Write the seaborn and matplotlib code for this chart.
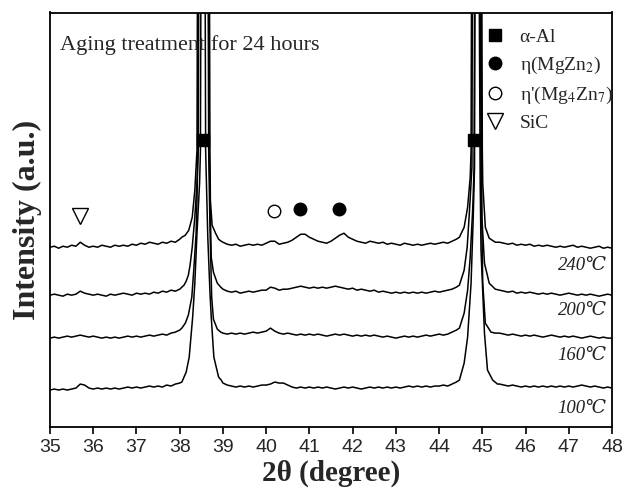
import numpy as np
import pandas as pd
import matplotlib
matplotlib.use("Agg")
import matplotlib.pyplot as plt
from matplotlib.lines import Line2D
import seaborn as sns

# ---------------- data ----------------
step = 0.1
x_left = np.round(np.arange(35.0, 38.0 + 1e-9, step), 2)     # 31 pts
x_mid = np.round(np.arange(39.0, 44.4 + 1e-9, step), 2)      # 55 pts
x_right = np.round(np.arange(45.4, 48.0 + 1e-9, step), 2)    # 27 pts

temps = ["240℃", "200℃", "160℃", "100℃"]
label_heights = [162, 117, 72, 19]

# 240 C
i240_left = [180, 181, 179, 181, 180, 182, 181, 185, 182, 180, 181, 180, 182, 181, 180, 182,
             181, 182, 181, 183, 182, 184, 183, 185, 184, 183, 185, 184, 186, 185, 188]
p1x_240 = [38.05, 38.13, 38.21, 38.29, 38.35, 38.38, 38.40, 38.41, 38.54, 38.69, 38.70, 38.71, 38.75, 38.83, 38.90, 38.96]
p1h_240 = [190, 192, 197, 210, 237, 260, 277, 430, 2500, 430, 277, 227, 202, 194, 188, 186]
i240_mid = [185, 183, 182, 183, 181, 182, 183, 182, 183, 182, 184, 186, 186, 183, 184, 185,
            187, 190, 193, 193, 190, 188, 186, 185, 184, 186, 189, 192, 194, 190, 188, 186,
            185, 184, 186, 185, 184, 185, 183, 184, 183, 182, 184, 183, 182, 183, 182, 183,
            184, 183, 184, 185, 184, 186, 188]
p2x_240 = [44.47, 44.58, 44.66, 44.72, 44.74, 44.75, 44.87, 44.99, 45.00, 45.01, 45.07, 45.16, 45.30]
p2h_240 = [190, 200, 220, 250, 277, 430, 2500, 430, 277, 244, 200, 189, 185]
i240_right = [185, 184, 183, 184, 182, 183, 182, 183, 181, 182, 181, 182, 181, 180, 181, 180,
              181, 182, 180, 181, 180, 179, 180, 181, 179, 180, 179]

# 200 C
i200_left = [132, 133, 132, 131, 133, 132, 133, 136, 134, 133, 132, 133, 132, 131, 133, 132,
             133, 134, 133, 132, 134, 133, 134, 133, 135, 134, 136, 135, 137, 136, 138]
p1x_200 = [38.05, 38.10, 38.15, 38.20, 38.24, 38.29, 38.35, 38.40, 38.43, 38.44, 38.55, 38.67, 38.68, 38.73, 38.78, 38.87, 38.95]
p1h_200 = [140, 142, 146, 152, 162, 180, 210, 244, 277, 430, 2500, 430, 277, 170, 155, 144, 140]
i200_mid = [138, 136, 135, 136, 134, 135, 136, 135, 136, 137, 137, 140, 139, 137, 138, 138,
            139, 140, 141, 140, 139, 140, 139, 140, 139, 140, 141, 140, 139, 138, 139, 137,
            138, 137, 136, 137, 135, 136, 135, 134, 135, 134, 135, 134, 135, 134, 135, 134,
            135, 136, 135, 136, 137, 138, 140]
p2x_200 = [44.47, 44.58, 44.65, 44.70, 44.76, 44.77, 44.87, 44.97, 44.98, 44.99, 45.05, 45.16, 45.30]
p2h_200 = [142, 157, 180, 214, 260, 430, 2500, 430, 277, 210, 164, 144, 138]
i200_right = [137, 136, 135, 136, 134, 135, 134, 135, 134, 133, 134, 133, 134, 133, 132, 133,
              134, 133, 132, 133, 132, 133, 132, 131, 132, 133, 132]

# 160 C
i160_left = [89, 90, 89, 90, 91, 90, 91, 92, 91, 90, 91, 90, 89, 90, 89, 90,
             89, 90, 91, 90, 91, 90, 91, 92, 91, 92, 93, 92, 94, 95, 97]
p1x_160 = [38.05, 38.13, 38.20, 38.28, 38.33, 38.38, 38.40, 38.42, 38.43, 38.55, 38.66, 38.67, 38.70, 38.74, 38.78, 38.87, 38.95]
p1h_160 = [99, 104, 112, 130, 160, 194, 227, 277, 430, 2500, 430, 277, 200, 130, 108, 98, 95]
i160_mid = [94, 93, 94, 93, 94, 93, 94, 95, 94, 95, 96, 99, 96, 94, 93, 94,
            93, 92, 93, 92, 93, 92, 93, 92, 91, 92, 93, 92, 93, 92, 91, 92,
            91, 92, 91, 92, 91, 90, 91, 90, 89, 90, 91, 90, 91, 90, 91, 92,
            91, 92, 93, 92, 93, 95, 97]
p2x_160 = [44.47, 44.58, 44.66, 44.72, 44.78, 44.81, 44.82, 44.89, 44.96, 44.97, 45.01, 45.07, 45.20, 45.30]
p2h_160 = [99, 114, 137, 170, 220, 260, 430, 2500, 430, 260, 144, 104, 95, 94]
i160_right = [94, 93, 92, 93, 92, 91, 92, 91, 92, 91, 90, 91, 92, 91, 90, 91,
              90, 91, 90, 89, 90, 91, 90, 89, 90, 89, 89]

# 100 C
i100_left = [37, 38, 37, 38, 37, 38, 39, 43, 42, 39, 38, 39, 38, 39, 38, 39,
             38, 39, 40, 39, 40, 39, 40, 41, 40, 41, 40, 42, 41, 43, 44]
p1x_100 = [38.05, 38.15, 38.22, 38.30, 38.35, 38.40, 38.46, 38.48, 38.49, 38.545, 38.59, 38.60, 38.65, 38.70, 38.73, 38.79, 38.90, 38.96]
p1h_100 = [45, 55, 70, 110, 144, 194, 244, 277, 430, 2500, 430, 277, 190, 135, 110, 70, 50, 47]
i100_mid = [44, 42, 41, 40, 41, 40, 41, 40, 41, 42, 42, 43, 45, 44, 44, 42,
            40, 39, 40, 39, 40, 39, 40, 39, 40, 39, 38, 39, 40, 39, 40, 39,
            38, 39, 40, 39, 40, 39, 40, 39, 40, 39, 40, 41, 40, 41, 40, 41,
            40, 41, 41, 42, 41, 43, 45]
p2x_100 = [44.47, 44.58, 44.66, 44.74, 44.79, 44.82, 44.83, 44.88, 44.93, 44.95, 44.97, 45.05, 45.12, 45.24, 45.35]
p2h_100 = [47, 64, 90, 144, 210, 260, 430, 2500, 430, 250, 177, 94, 57, 47, 43]
i100_right = [43, 42, 41, 42, 41, 40, 41, 40, 41, 40, 41, 40, 41, 40, 41, 40,
              41, 40, 41, 42, 41, 40, 41, 40, 39, 40, 39]

# phase markers
al_x = [38.53, 44.81]
al_h = [287, 287]
mgzn2_x = [40.78, 41.69]
mgzn2_h = [218, 218]
mg4zn7_x = [40.18]
mg4zn7_h = [216]
sic_x = [35.69]
sic_h = [211]

legend_labels = ["α-Al", "η(MgZn$_2$)", "η'(Mg$_4$Zn$_7$)", "SiC"]

# ---------------- build table ----------------
curves = {
    "240℃": (i240_left, p1x_240, p1h_240, i240_mid, p2x_240, p2h_240, i240_right),
    "200℃": (i200_left, p1x_200, p1h_200, i200_mid, p2x_200, p2h_200, i200_right),
    "160℃": (i160_left, p1x_160, p1h_160, i160_mid, p2x_160, p2h_160, i160_right),
    "100℃": (i100_left, p1x_100, p1h_100, i100_mid, p2x_100, p2h_100, i100_right),
}
frames = []
for name, (l, p1x, p1h, m, p2x, p2h, r) in curves.items():
    xs = np.concatenate([x_left, p1x, x_mid, p2x, x_right])
    ys = np.concatenate([l, p1h, m, p2h, r])
    frames.append(pd.DataFrame({"two_theta": xs, "intensity": ys, "temp": name}))
df = pd.concat(frames, ignore_index=True)

# ---------------- plot ----------------
sns.set_theme(style="ticks")
plt.rcParams["font.family"] = ["Liberation Serif", "DejaVu Serif"]
plt.rcParams["mathtext.fontset"] = "stix"

fig = plt.figure(figsize=(6.3, 4.99), dpi=100)
ax = fig.add_axes([50 / 630, 1 - 427 / 499, 562 / 630, 414.5 / 499])

for name in temps:
    sub = df[df["temp"] == name]
    sns.lineplot(data=sub, x="two_theta", y="intensity", ax=ax, color="black",
                 linewidth=1.1, estimator=None, sort=True, legend=False)

mk = dict(linestyle="none", color="black")
ax.plot(al_x, al_h, marker="s", ms=8, **mk)
ax.plot(mgzn2_x, mgzn2_h, marker="o", ms=9, **mk)
ax.plot(mg4zn7_x, mg4zn7_h, marker="o", ms=9, mfc="white", mec="black", mew=1.0, linestyle="none")
ax.plot(sic_x, sic_h, marker="v", ms=11, mfc="white", mec="black", mew=1.0, linestyle="none")

for name, h in zip(temps, label_heights):
    ax.text(47.88, h, name, ha="right", va="center", fontsize=13.5, style="italic",
            family=["Liberation Serif", "DejaVu Serif"], color="#222222")

ax.text(0.018, 0.922, "Aging treatment for 24 hours", transform=ax.transAxes,
        ha="left", va="center", fontsize=16, family=["Liberation Serif", "DejaVu Serif"])

handles = [
    Line2D([], [], marker="s", ms=8, color="black", linestyle="none"),
    Line2D([], [], marker="o", ms=9, color="black", linestyle="none"),
    Line2D([], [], marker="o", ms=9, mfc="white", mec="black", linestyle="none"),
    Line2D([], [], marker="v", ms=11, mfc="white", mec="black", linestyle="none"),
]
ax.legend(handles, legend_labels, loc="upper left", bbox_to_anchor=(0.775, 0.962),
          frameon=False, fontsize=14, handlelength=1.0, handletextpad=0.75,
          labelspacing=0.45, borderpad=0, borderaxespad=0)

ax.set_xlim(35, 48)
ax.set_ylim(0, 415)
ax.set_xticks(np.arange(35, 49, 1))
ax.set_xticklabels([str(v) for v in range(35, 49)], family=["Liberation Sans", "DejaVu Sans"], fontsize=14)
ax.set_yticks([])
ax.tick_params(axis="x", direction="out", length=5, width=1.2, color="black", pad=4)
for s in ax.spines.values():
    s.set_visible(True)
    s.set_linewidth(1.3)
    s.set_color("black")

ax.set_xlabel("2θ (degree)", fontsize=21, fontweight="bold", labelpad=2)
ax.set_ylabel("Intensity (a.u.)", fontsize=23, fontweight="bold", labelpad=6)

fig.savefig("out.png", dpi=100)
